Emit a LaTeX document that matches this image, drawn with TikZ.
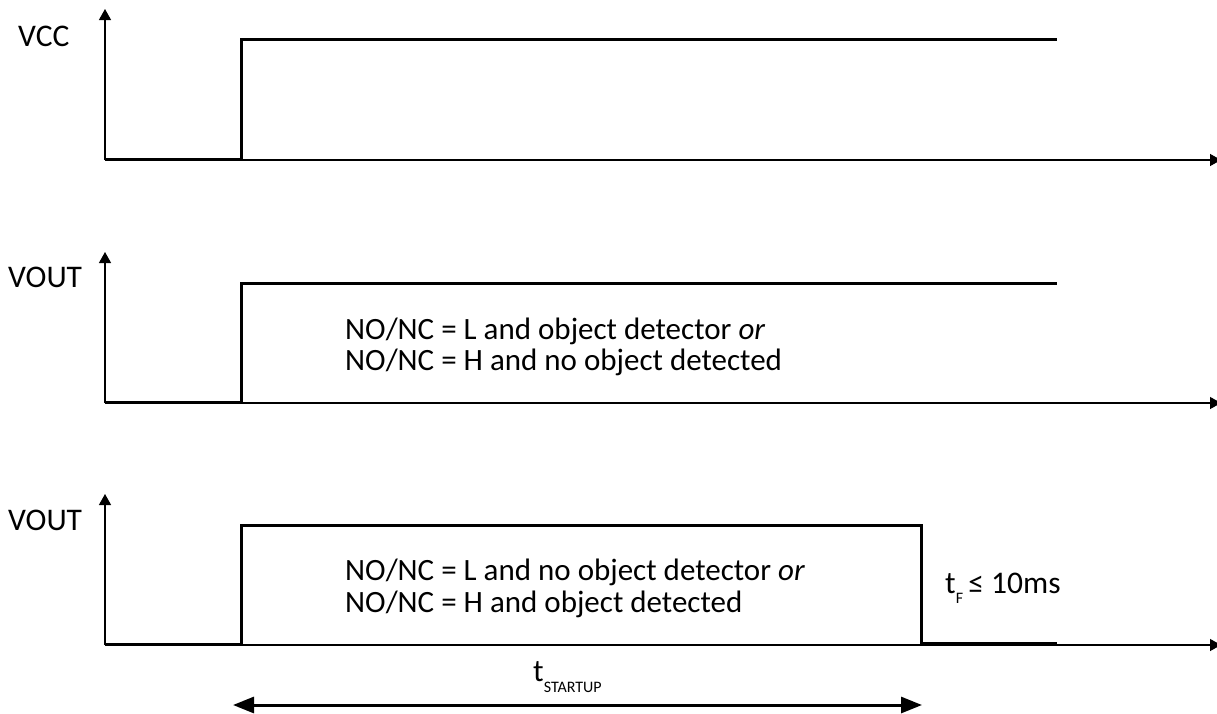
\documentclass[tikz,border=0pt]{standalone}
\usepackage{fontspec}
\setmainfont{Carlito}
\usetikzlibrary{arrows.meta}
\begin{document}
\begin{tikzpicture}[x=1pt,y=-1pt,
  axis/.style={line width=1.3pt,-{Triangle[length=11pt,width=12pt]}},
  sig/.style={line width=3pt,line join=miter},
  dim/.style={line width=3pt,{Triangle[length=21pt,width=16pt]}-{Triangle[length=21pt,width=16pt]}},
  lbl/.style={font=\fontsize{31.5}{34}\selectfont,inner sep=0pt,anchor=base west},
  txt/.style={font=\fontsize{31}{34}\selectfont,inner sep=0pt,anchor=base west}]
\useasboundingbox (0,0) rectangle (1217,713);
% panel 1
\coordinate (o1) at (105,160);
\coordinate (y1) at (105,9);
\coordinate (x1) at (1221,160);
\draw[axis] (o1) -- (y1);
\draw[axis] (o1) -- (x1);
\coordinate (a1) at (106,159);
\coordinate (b1) at (241,159);
\coordinate (c1) at (241,39);
\coordinate (d1) at (1057,39);
\draw[sig] (a1) -- (b1) -- (c1) -- (d1);
\node[lbl] (vcc) at (18,46) {VCC};
% panel 2
\coordinate (o2) at (105,403);
\coordinate (y2) at (105,252);
\coordinate (x2) at (1221,403);
\draw[axis] (o2) -- (y2);
\draw[axis] (o2) -- (x2);
\coordinate (a2) at (106,402);
\coordinate (b2) at (241,402);
\coordinate (c2) at (241,283);
\coordinate (d2) at (1057,283);
\draw[sig] (a2) -- (b2) -- (c2) -- (d2);
\node[lbl] (vout1) at (8,287) {VOUT};
\node[txt] (t2a) at (345,339) {NO/NC = L and object detector \textit{or}};
\node[txt] (t2b) at (345,370) {NO/NC = H and no object detected};
% panel 3
\coordinate (o3) at (105,645);
\coordinate (y3) at (105,494);
\coordinate (x3) at (1221,645);
\draw[axis] (o3) -- (y3);
\draw[axis] (o3) -- (x3);
\coordinate (a3) at (106,644);
\coordinate (b3) at (241,644);
\coordinate (c3) at (241,525);
\coordinate (d3) at (921,525);
\coordinate (e3) at (921,643);
\coordinate (f3) at (1057,643);
\draw[sig] (a3) -- (b3) -- (c3) -- (d3) -- (e3) -- (f3);
\node[lbl] (vout2) at (8,530) {VOUT};
\node[txt] (t3a) at (345,580) {NO/NC = L and no object detector \textit{or}};
\node[txt] (t3b) at (345,612) {NO/NC = H and object detected};
\node[lbl] (tf) at (945,593) {t\raisebox{-10pt}{\fontsize{16}{16}\selectfont F}\,≤ 10ms};
% startup
\coordinate (s1) at (233,705);
\coordinate (s2) at (922,705);
\draw[dim] (s1) -- (s2);
\node[lbl] (ts) at (533,681) {t\raisebox{-11pt}{\fontsize{16}{16}\selectfont STARTUP}};
\end{tikzpicture}
\end{document}
